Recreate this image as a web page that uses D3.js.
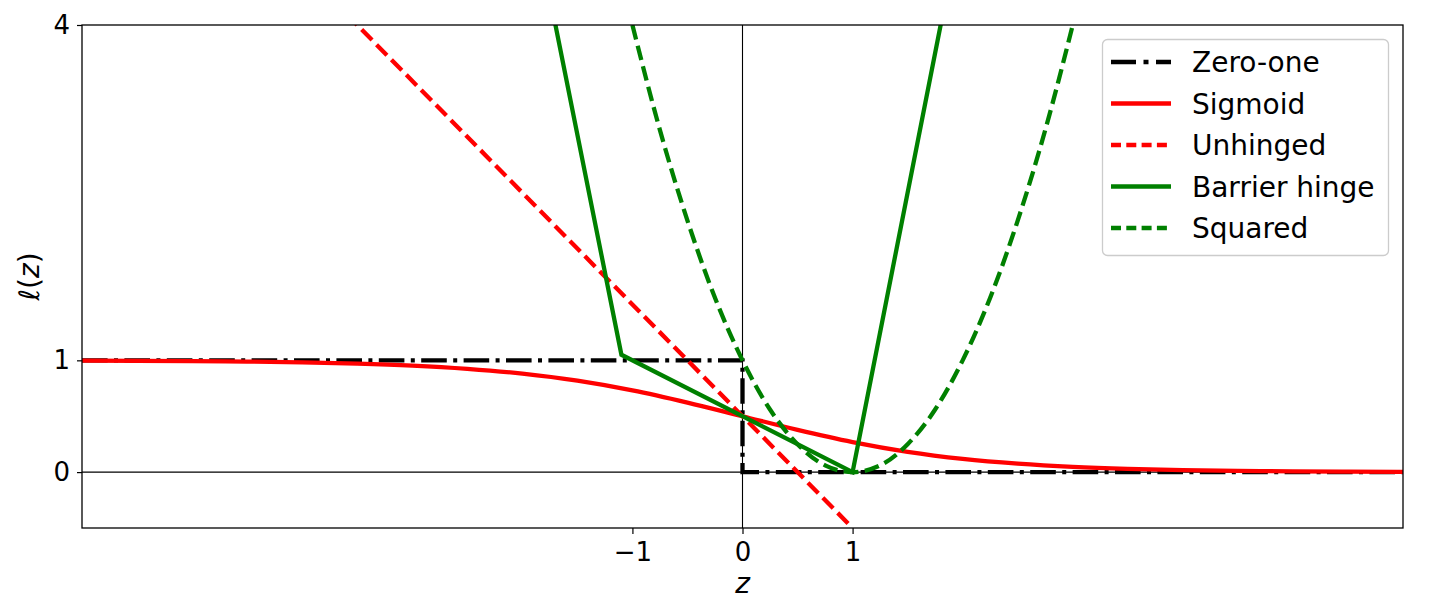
<!DOCTYPE html>
<html>
<head>
<meta charset="utf-8">
<script src="https://cdn.jsdelivr.net/npm/d3@7"></script>
<style>
  body { margin: 0; background: #fff; }
  text { font-family: "DejaVu Sans", sans-serif; fill: #000; }
</style>
</head>
<body>
<div id="chart"></div>
<script>
// values
var zeroOneZ = [-6, 0, 0, 6];
var zeroOneL = [1, 1, 0, 0];

var sigmoidZ = [-6, -5.5, -5, -4.5, -4, -3.5, -3, -2.5, -2, -1.5, -1, -0.5, 0, 0.5, 1, 1.5, 2, 2.5, 3, 3.5, 4, 4.5, 5, 5.5, 6];
var sigmoidL = [0.998, 0.996, 0.993, 0.989, 0.982, 0.971, 0.953, 0.924, 0.881, 0.818, 0.731, 0.622, 0.5, 0.378, 0.269, 0.182, 0.119, 0.076, 0.047, 0.029, 0.018, 0.011, 0.007, 0.004, 0.002];

var unhingedZ = [-4, 1];
var unhingedL = [4.5, -0.5];

var barrierZ = [-1.75, -1.1, 1, 1.85];
var barrierL = [4.25, 1.05, 0, 4.25];

var squaredZ = [-1, -0.75, -0.5, -0.25, 0, 0.25, 0.5, 0.75, 1, 1.25, 1.5, 1.75, 2, 2.25, 2.5, 2.75, 3];
var squaredL = [4, 3.06, 2.25, 1.56, 1, 0.56, 0.25, 0.06, 0, 0.06, 0.25, 0.56, 1, 1.56, 2.25, 3.06, 4];

var xTicks = [-1, 0, 1];
var yTicks = [0, 1, 4];

var legendNames = ["Zero-one", "Sigmoid", "Unhinged", "Barrier hinge", "Squared"];

var W = 1436, H = 612;
var margin = {top: 25, right: 33, bottom: 84, left: 82};
var iw = W - margin.left - margin.right,
    ih = H - margin.top - margin.bottom;

var svg = d3.select("#chart").append("svg")
    .attr("width", W)
    .attr("height", H);

var x = d3.scaleLinear().domain([-6, 6]).range([0, iw]);
var y = d3.scaleLinear().domain([-0.5, 4]).range([ih, 0]);

var g = svg.append("g").attr("transform", `translate(${margin.left},${margin.top})`);

svg.append("defs").append("clipPath").attr("id", "clip")
  .append("rect").attr("width", iw).attr("height", ih);

var plot = g.append("g").attr("clip-path", "url(#clip)");

// reference lines at z=0 and l=0
plot.append("line")
    .attr("x1", x(0)).attr("x2", x(0)).attr("y1", 0).attr("y2", ih)
    .attr("stroke", "#000").attr("stroke-width", 1.1);
plot.append("line")
    .attr("x1", 0).attr("x2", iw).attr("y1", y(0)).attr("y2", y(0))
    .attr("stroke", "#000").attr("stroke-width", 1.1);

function zip(zs, ls) { return zs.map((z, i) => [z, ls[i]]); }

var series = [
  {name: "Zero-one", data: zip(zeroOneZ, zeroOneL), color: "#000", dash: "25.6,6.4,4,6.4", curve: d3.curveLinear, legDash: "25,7.5,5,7.5"},
  {name: "Sigmoid", data: zip(sigmoidZ, sigmoidL), color: "#ff0000", dash: null, curve: d3.curveMonotoneX, legDash: null},
  {name: "Unhinged", data: zip(unhingedZ, unhingedL), color: "#ff0000", dash: "14.8,6.4", curve: d3.curveLinear, legDash: "10,5.3"},
  {name: "Barrier hinge", data: zip(barrierZ, barrierL), color: "#008000", dash: null, curve: d3.curveLinear, legDash: null},
  {name: "Squared", data: zip(squaredZ, squaredL), color: "#008000", dash: "14.8,6.4", curve: d3.curveMonotoneX, legDash: "10,5.3"}
];

series.forEach(function(s) {
  var line = d3.line().x(d => x(d[0])).y(d => y(d[1])).curve(s.curve);
  plot.append("path")
      .attr("d", line(s.data))
      .attr("fill", "none")
      .attr("stroke", s.color)
      .attr("stroke-width", 4.3)
      .attr("stroke-dasharray", s.dash);
});

// axes
var xAxis = g.append("g")
    .attr("transform", `translate(0,${ih})`)
    .call(d3.axisBottom(x).tickValues(xTicks).tickSize(6).tickPadding(9).tickFormat(d3.format("d")));
var yAxis = g.append("g")
    .call(d3.axisLeft(y).tickValues(yTicks).tickSize(5).tickPadding(7).tickFormat(d3.format("d")));

[xAxis, yAxis].forEach(function(a) {
  a.select(".domain").remove();
  a.selectAll(".tick line").attr("stroke", "#000").attr("stroke-width", 1.2);
  a.selectAll(".tick text")
      .style("font-family", "DejaVu Sans")
      .style("font-size", "26px")
      .attr("fill", "#000");
});

// frame
g.append("rect")
    .attr("width", iw).attr("height", ih)
    .attr("fill", "none").attr("stroke", "#000").attr("stroke-width", 1.3);

// axis labels
var xl = svg.append("text")
    .attr("x", margin.left + x(0)).attr("y", 593)
    .attr("text-anchor", "middle")
    .style("font-size", "28px");
xl.append("tspan").style("font-style", "italic").text("z");

var yl = svg.append("text")
    .attr("transform", `translate(39,${margin.top + ih / 2}) rotate(-90)`)
    .attr("text-anchor", "middle")
    .style("font-size", "28px");
yl.append("tspan").style("font-style", "italic").text("ℓ");
yl.append("tspan").text("(");
yl.append("tspan").style("font-style", "italic").text("z");
yl.append("tspan").text(")");

// legend
var leg = svg.append("g");
leg.append("rect")
    .attr("x", 1102.5).attr("y", 39.5)
    .attr("width", 286).attr("height", 216)
    .attr("rx", 5).attr("ry", 5)
    .attr("fill", "#fff").attr("fill-opacity", 0.8)
    .attr("stroke", "#cccccc").attr("stroke-width", 1.3);

var item = leg.selectAll(".item")
    .data(series)
    .enter().append("g")
    .attr("class", "item")
    .attr("transform", (d, i) => `translate(0,${72 + i * 41.5})`);

item.append("line")
    .attr("x1", 1111).attr("x2", 1171)
    .attr("y1", -10).attr("y2", -10)
    .attr("stroke", d => d.color)
    .attr("stroke-width", 4.3)
    .attr("stroke-dasharray", d => d.legDash);

item.append("text")
    .attr("x", 1192).attr("y", 0)
    .style("font-size", "28px")
    .text((d, i) => legendNames[i]);
</script>
</body>
</html>
